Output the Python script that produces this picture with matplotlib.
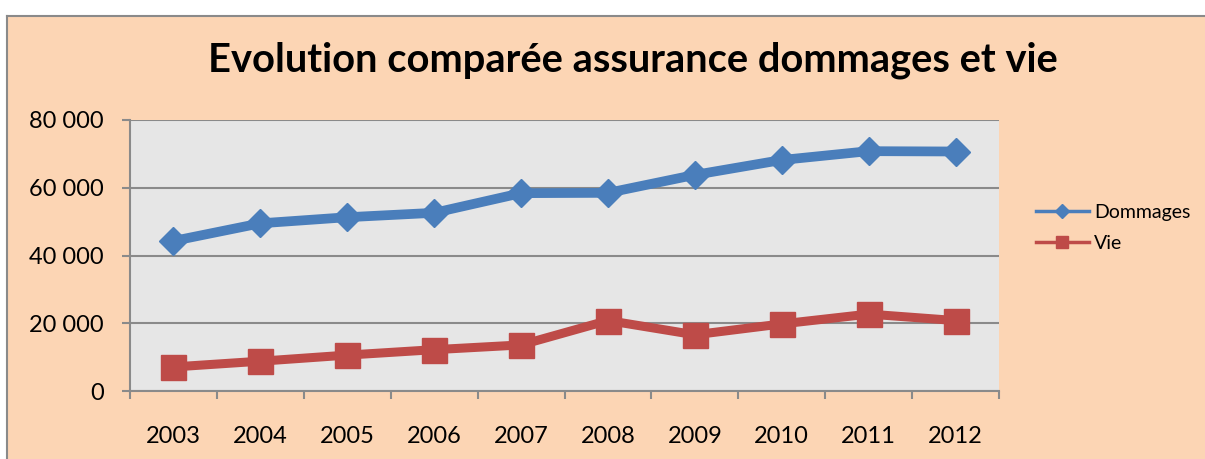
import matplotlib
matplotlib.use("Agg")
import matplotlib.pyplot as plt
from matplotlib.lines import Line2D
from matplotlib.patches import Rectangle
from matplotlib.ticker import FixedLocator

plt.rcParams['font.family'] = ['Lato', 'DejaVu Sans']

years = ['2003', '2004', '2005', '2006', '2007', '2008', '2009', '2010', '2011', '2012']
dommages = [44300, 49500, 51300, 52600, 58400, 58500, 63800, 68200, 70800, 70700]
vie = [7100, 8800, 10600, 12200, 13600, 20800, 16600, 19800, 22700, 20800]
y_ticks = [0, 20000, 40000, 60000, 80000]
y_tick_labels = ['0', '20 000', '40 000', '60 000', '80 000']
title = 'Evolution comparée assurance dommages et vie'
series_names = ['Dommages', 'Vie']

BLUE = '#4A7EBB'
RED = '#BE4B48'
PEACH = '#FCD5B4'
PLOTBG = '#E6E6E6'
GRAY = '#8A8A8A'

W, H = 1205, 459
fig = plt.figure(figsize=(W / 100, H / 100), dpi=100, facecolor='white')

# outer chart area (only top and left borders visible)
x0, y0 = 7 / W, 1 - 16 / H
fig.patches.append(Rectangle((x0, -0.2), 2.0, y0 + 0.2, transform=fig.transFigure,
                             facecolor=PEACH, edgecolor='none', zorder=-10))
fig.lines.append(Line2D([x0, 1.1], [y0, y0], transform=fig.transFigure,
                        color=GRAY, linewidth=1.5, zorder=-9))
fig.lines.append(Line2D([x0, x0], [-0.1, y0], transform=fig.transFigure,
                        color=GRAY, linewidth=1.5, zorder=-9))

ax = fig.add_axes([130 / W, (H - 391) / H, (999 - 130) / W, (391 - 120) / H])
ax.set_zorder(1)
ax.set_facecolor(PLOTBG)

x = list(range(len(years)))
ax.plot(x, dommages, color=BLUE, linewidth=7, marker='D', markersize=14,
        markerfacecolor=BLUE, markeredgecolor=BLUE, solid_joinstyle='round', zorder=3)
ax.plot(x, vie, color=RED, linewidth=6.5, marker='s', markersize=18,
        markerfacecolor=RED, markeredgecolor=RED, solid_joinstyle='round', zorder=3)

ax.set_xlim(-0.5, len(years) - 0.5)
ax.set_ylim(0, 80000)
ax.set_yticks(y_ticks)
ax.set_yticklabels(y_tick_labels)
ax.set_xticks(x)
ax.set_xticklabels(years)
ax.xaxis.set_minor_locator(FixedLocator([i - 0.5 for i in range(len(years) + 1)]))

ax.yaxis.grid(True, color=GRAY, linewidth=1.5)
ax.set_axisbelow(True)
for s in ['top', 'right']:
    ax.spines[s].set_visible(False)
for s in ['left', 'bottom']:
    ax.spines[s].set_color(GRAY)
    ax.spines[s].set_linewidth(1.5)

ax.tick_params(axis='y', length=6, width=1.5, color=GRAY, pad=13, labelsize=17, labelcolor='black')
ax.tick_params(axis='x', which='major', length=0, pad=25, labelsize=17, labelcolor='black')
ax.tick_params(axis='x', which='minor', length=6, width=1.5, color=GRAY)

fig.text(633 / W, 1 - 60 / H, title, ha='center', va='center', fontsize=28.7,
         fontweight='bold', color='black')

handles = [
    Line2D([], [], color=BLUE, linewidth=2.5, marker='D', markersize=7,
           markerfacecolor=BLUE, markeredgecolor=BLUE),
    Line2D([], [], color=RED, linewidth=2.5, marker='s', markersize=8.5,
           markerfacecolor=RED, markeredgecolor=RED),
]
ax.legend(handles, series_names, loc='center left', bbox_to_anchor=(1036 / W, 1 - 228 / H),
          bbox_transform=fig.transFigure, frameon=False, fontsize=14,
          handlelength=2.7, handletextpad=0.3, labelspacing=0.7, borderpad=0, borderaxespad=0)

fig.savefig('out.png', dpi=100, facecolor='white')
